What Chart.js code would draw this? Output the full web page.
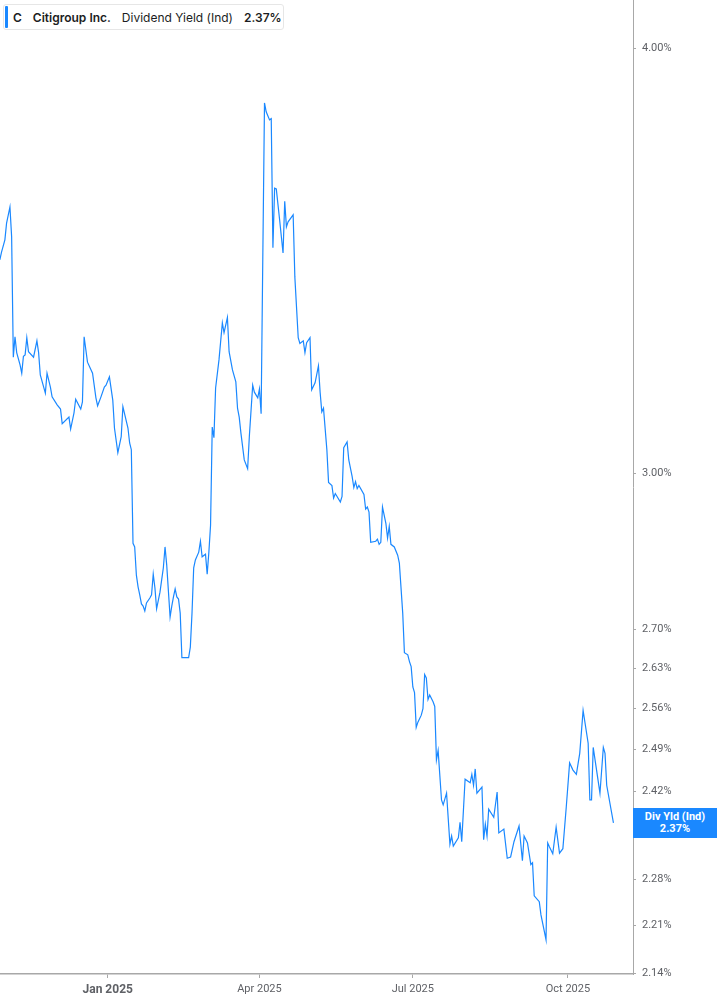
<!DOCTYPE html>
<html>
<head>
<meta charset="utf-8">
<script src="https://cdn.jsdelivr.net/npm/chart.js@4.4.1/dist/chart.umd.min.js"></script>
<style>
  html, body { margin: 0; padding: 0; background: #fff; }
  #wrap { position: relative; width: 717px; height: 1005px; }
  #legend {
    position: absolute; left: 3px; top: 4px; height: 26px; width: 281px;
    box-sizing: border-box; border: 1px solid #e6e6e6; border-radius: 3px;
    display: flex; align-items: center; gap: 11px; padding-left: 9px;
    font-family: Inter, "Noto Sans", sans-serif; font-size: 12px; color: #1b1d22;
    background: #fff;
  }
  #legend .bar { position: absolute; left: 1px; top: 1px; bottom: 1px; width: 3px; background: #1a88ff; border-radius: 1px; }
  #legend b { font-weight: 600; }
  #endLabel {
    position: absolute; left: 633px; width: 84px; height: 30px;
    background: #1a88ff; color: #fff; text-align: center;
    font-family: Roboto, "Noto Sans", sans-serif; font-size: 11px; font-weight: 700; line-height: 12px;
    box-sizing: border-box; padding-top: 3px;
  }
</style>
</head>
<body>
<div id="wrap">
  <canvas id="chart" width="717" height="1005"></canvas>
  <div id="legend"><span class="bar"></span><b>C</b><b>Citigroup Inc.</b><span>Dividend Yield (Ind)</span><b>2.37%</b></div>
  <div id="endLabel">Div Yld (Ind)<br>2.37%</div>
</div>
<script>
// Trading days, as days since 1 Jan 2025 (negative = late 2024)
const tradeDays = [
  -64, -63, -61, -60, -58, -57, -56, -55, -54, -52,
  -51, -50, -49, -48, -47, -44, -42, -41, -40, -37,
  -36, -34, -33, -30, -28, -27, -23, -22, -20, -19,
  -16, -15, -14, -12, -9, -7, -6, -4, -2, -1,
  1, 3, 4, 6, 8, 9, 12, 13, 14, 15,
  16, 17, 18, 19, 20, 21, 22, 23, 25, 26,
  27, 28, 29, 31, 32, 33, 34, 35, 37, 38,
  39, 40, 41, 42, 43, 44, 48, 49, 50, 51,
  52, 54, 55, 56, 58, 59, 60, 61, 62, 63,
  64, 66, 68, 69, 71, 72, 74, 76, 77, 78,
  79, 81, 83, 84, 86, 87, 89, 90, 91, 92,
  93, 94, 96, 97, 98, 99, 100, 102, 104, 105,
  106, 107, 110, 111, 113, 114, 116, 117, 118, 120,
  121, 123, 125, 126, 127, 128, 130, 131, 133, 134,
  135, 138, 139, 140, 142, 143, 145, 146, 147, 148,
  149, 152, 153, 154, 155, 156, 159, 160, 161, 162,
  163, 165, 166, 167, 168, 170, 172, 173, 175, 176,
  178, 179, 180, 181, 182, 183, 184, 186, 187, 188,
  189, 190, 191, 193, 194, 195, 196, 198, 199, 201,
  203, 204, 205, 208, 209, 210, 212, 215, 216, 217,
  218, 219, 222, 223, 224, 225, 226, 229, 231, 232,
  235, 237, 239, 241, 244, 246, 247, 249, 251, 252,
  253, 256, 257, 260, 261, 262, 264, 266, 268, 270,
  272, 274, 276, 278, 280, 282, 285, 286, 287, 288,
  292, 294, 295, 296, 300
];

// Dividend yield (indicated), percent
const divYield = [
  3.467, 3.485, 3.514, 3.554, 3.593, 3.521, 3.246, 3.291, 3.256, 3.229,
  3.211, 3.248, 3.251, 3.289, 3.258, 3.246, 3.282, 3.256, 3.207, 3.168,
  3.211, 3.181, 3.160, 3.143, 3.134, 3.103, 3.117, 3.092, 3.126, 3.155,
  3.134, 3.149, 3.291, 3.235, 3.211, 3.158, 3.141, 3.160, 3.181, 3.185,
  3.203, 3.153, 3.094, 3.043, 3.076, 3.139, 3.094, 3.063, 3.049, 2.862,
  2.855, 2.801, 2.779, 2.764, 2.747, 2.743, 2.734, 2.749, 2.758, 2.764,
  2.803, 2.777, 2.738, 2.769, 2.792, 2.815, 2.855, 2.820, 2.723, 2.743,
  2.760, 2.775, 2.760, 2.756, 2.730, 2.649, 2.649, 2.668, 2.730, 2.815,
  2.830, 2.845, 2.866, 2.836, 2.841, 2.803, 2.845, 2.897, 3.096, 3.074,
  3.179, 3.240, 3.322, 3.300, 3.334, 3.258, 3.218, 3.192, 3.136, 3.117,
  3.084, 3.028, 3.010, 3.076, 3.185, 3.170, 3.158, 3.177, 3.124, 3.474,
  3.855, 3.832, 3.811, 3.814, 3.495, 3.639, 3.637, 3.561, 3.483, 3.607,
  3.545, 3.557, 3.574, 3.427, 3.289, 3.276, 3.282, 3.256, 3.278, 3.289,
  3.175, 3.190, 3.227, 3.170, 3.128, 3.136, 3.049, 2.982, 2.976, 2.951,
  2.960, 2.943, 2.954, 3.053, 3.065, 3.028, 2.994, 2.972, 2.984, 2.970,
  2.976, 2.958, 2.929, 2.933, 2.923, 2.864, 2.866, 2.870, 2.860, 2.864,
  2.933, 2.901, 2.872, 2.895, 2.860, 2.855, 2.839, 2.824, 2.730, 2.658,
  2.654, 2.642, 2.633, 2.597, 2.587, 2.527, 2.536, 2.548, 2.559, 2.619,
  2.613, 2.575, 2.583, 2.571, 2.563, 2.472, 2.488, 2.406, 2.398, 2.417,
  2.335, 2.348, 2.332, 2.345, 2.370, 2.339, 2.440, 2.434, 2.448, 2.430,
  2.457, 2.417, 2.427, 2.342, 2.367, 2.348, 2.391, 2.378, 2.419, 2.353,
  2.359, 2.313, 2.315, 2.339, 2.364, 2.309, 2.348, 2.337, 2.303, 2.306,
  2.255, 2.246, 2.226, 2.189, 2.337, 2.331, 2.320, 2.362, 2.321, 2.328,
  2.394, 2.467, 2.455, 2.448, 2.483, 2.556, 2.500, 2.406, 2.406, 2.493,
  2.417, 2.493, 2.483, 2.430, 2.369
];

// Axis ticks
const xTickDays = [0, 90, 181, 273];
const xTickLabels = ['Jan 2025', 'Apr 2025', 'Jul 2025', 'Oct 2025'];
const yTickValues = [2.14, 2.21, 2.28, 2.35, 2.42, 2.49, 2.56, 2.63, 2.70, 3.00, 4.00];

const lineColor = '#1a88ff';
const axisColor = '#a8a8a8';
const tickColor = '#5f6166';

const points = tradeDays.map((d, i) => ({ x: d, y: divYield[i] }));

// Метка последнего значения у правой оси
const endLabelPlugin = {
    id: 'endLabel',
    afterDraw(chart) {
        const y = chart.scales.y.getPixelForValue(divYield[divYield.length - 1]);
        document.getElementById('endLabel').style.top = (y - 15) + 'px';
    }
};

const ctx = document.getElementById('chart').getContext('2d');
new Chart(ctx, {
    type: 'line',
    data: {
        datasets: [{
            label: 'Div Yld (Ind)',
            data: points,
            borderColor: lineColor,
            borderWidth: 1.2,
            pointRadius: 0,
            tension: 0,
            fill: false
        }]
    },
    options: {
        responsive: false,
        animation: false,
        layout: { padding: 0 },
        plugins: {
            legend: { display: false },
            tooltip: { enabled: false }
        },
        scales: {
            x: {
                type: 'linear',
                min: -63.9,
                max: 311.6,
                bounds: 'data',
                afterBuildTicks: (scale) => {
                    scale.ticks = xTickDays.map(v => ({ value: v }));
                },
                afterFit: (scale) => {
                    scale.height = 31;
                    scale.paddingLeft = 0;
                    scale.paddingRight = 0;
                },
                grid: {
                    drawOnChartArea: false,
                    drawTicks: true,
                    tickLength: 4,
                    color: axisColor
                },
                border: { display: true, color: axisColor, width: 1.5 },
                ticks: {
                    padding: 5,
                    maxRotation: 0,
                    autoSkip: false,
                    color: tickColor,
                    font: (c) => c.tick && c.tick.value === 0
                        ? { family: 'Roboto', size: 12, weight: 'bold' }
                        : { family: 'Roboto', size: 11 },
                    callback: (v) => xTickLabels[xTickDays.indexOf(v)] || ''
                }
            },
            y: {
                type: 'logarithmic',
                position: 'right',
                min: 2.1388,
                max: 4.1328,
                bounds: 'data',
                afterBuildTicks: (scale) => {
                    scale.ticks = yTickValues.map(v => ({ value: v }));
                },
                afterFit: (scale) => {
                    scale.width = 84;
                    scale.paddingTop = 0;
                    scale.paddingBottom = 0;
                },
                grid: {
                    drawOnChartArea: false,
                    drawTicks: true,
                    tickLength: 3,
                    color: axisColor
                },
                border: { display: true, color: axisColor, width: 1 },
                ticks: {
                    padding: 6,
                    autoSkip: false,
                    color: tickColor,
                    font: { family: 'Roboto', size: 11 },
                    callback: (v) => Number(v).toFixed(2) + '%'
                }
            }
        }
    },
    plugins: [endLabelPlugin]
});
</script>
</body>
</html>
